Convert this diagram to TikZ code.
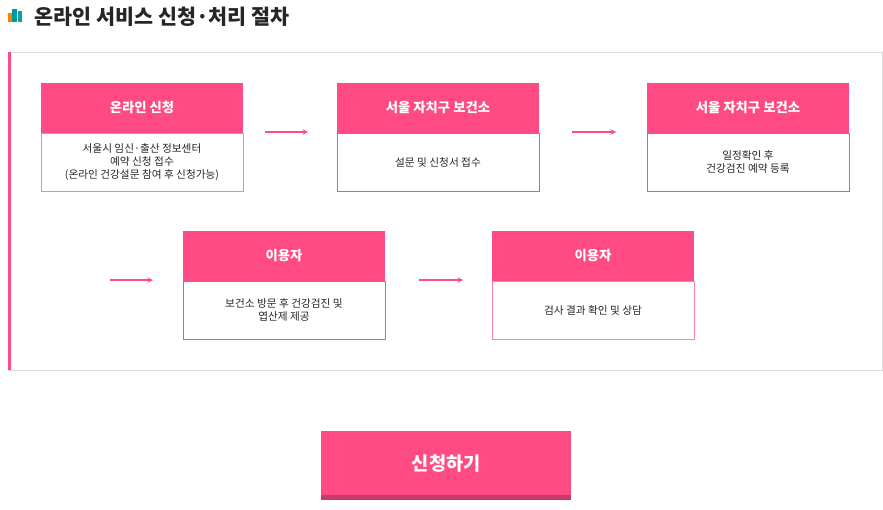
\documentclass[tikz,border=0pt]{standalone}
\usepackage{fontspec}
\setmainfont{Noto Sans CJK KR}
\usetikzlibrary{positioning}
\definecolor{hotpink}{HTML}{FF4A83}
\definecolor{darkpink}{HTML}{C93A68}
\definecolor{lightgray}{HTML}{DDDDDD}
\definecolor{boxgray}{HTML}{888888}
\tikzset{
  head/.style={fill=hotpink, minimum width=151.5pt, minimum height=37.5pt, inner sep=0pt, outer sep=0pt,
    text=white, font=\fontsize{10}{12}\selectfont\bfseries},
  body/.style={draw=#1, fill=white, minimum width=151.5pt, minimum height=43.5pt, inner sep=0pt, outer sep=0pt,
    align=center, font=\fontsize{8}{9.5}\selectfont, text=black!85},
  body/.default=boxgray,
  flow/.style={hotpink, line width=0.8pt, -stealth}
}
\begin{document}
\begin{tikzpicture}[x=0.75pt,y=-0.75pt]
  \useasboundingbox (0,0) rectangle (883,510);

  % Title
  \fill[orange] (8,13) rectangle (12,22);
  \fill[teal!80!cyan] (12,9) rectangle (17,22);
  \fill[teal!70!cyan] (18,11) rectangle (22,22);
  \node[anchor=west, font=\fontsize{15.5}{18}\selectfont\bfseries, text=black!85] (title) at (30,17) {온라인 서비스 신청·처리 절차};

  % Frame
  \draw[lightgray] (8,52) rectangle (882,370);
  \fill[hotpink] (8,52) rectangle (11,370);

  % Step boxes
  \node[head, anchor=north west] (h1) at (41,83) {온라인 신청};
  \node[body=hotpink!70, below=0pt of h1] (b1) {서울시 임신·출산 정보센터\\예약 신청 접수\\(온라인 건강설문 참여 후 신청가능)};
  \node[head, anchor=north west] (h2) at (337,83) {서울 자치구 보건소};
  \node[body, below=0pt of h2] (b2) {설문 및 신청서 접수};
  \node[head, anchor=north west] (h3) at (647,83) {서울 자치구 보건소};
  \node[body, below=0pt of h3] (b3) {일정확인 후\\건강검진 예약 등록};
  \node[head, anchor=north west] (h4) at (183,231) {이용자};
  \node[body, below=0pt of h4] (b4) {보건소 방문 후 건강검진 및\\엽산제 제공};
  \node[head, anchor=north west] (h5) at (492,231) {이용자};
  \node[body=hotpink!70, below=0pt of h5] (b5) {검사 결과 확인 및 상담};

  % Arrows
  \coordinate (a1) at (265,132); \coordinate (a2) at (308,132);
  \coordinate (a3) at (572,132); \coordinate (a4) at (616,132);
  \coordinate (a5) at (110,280); \coordinate (a6) at (153,280);
  \coordinate (a7) at (419,280); \coordinate (a8) at (463,280);
  \draw[flow] (a1) -- (a2);
  \draw[flow] (a3) -- (a4);
  \draw[flow] (a5) -- (a6);
  \draw[flow] (a7) -- (a8);

  % Button
  \fill[darkpink] (321,431) rectangle (571,500);
  \node[fill=hotpink, anchor=north west, minimum width=187.5pt, minimum height=48pt, inner sep=0pt,
    text=white, font=\fontsize{14}{16}\selectfont\bfseries] (apply) at (321,431) {신청하기};
\end{tikzpicture}
\end{document}
